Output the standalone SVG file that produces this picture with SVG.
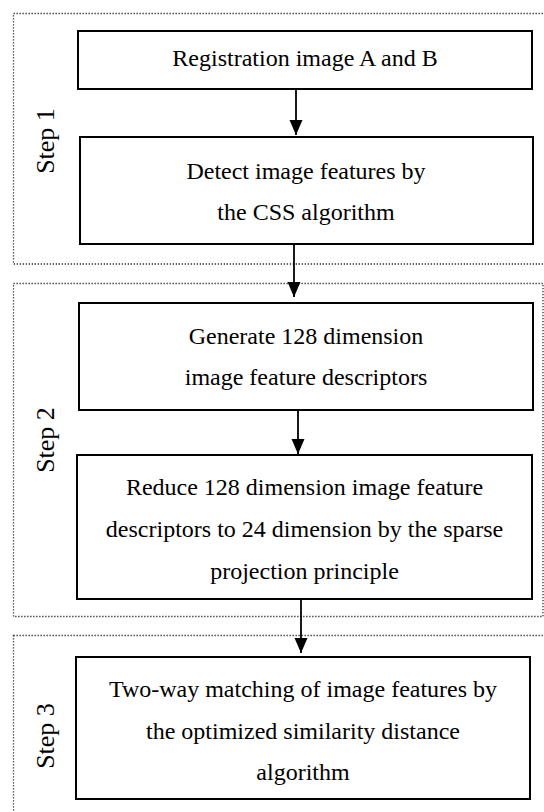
<svg xmlns="http://www.w3.org/2000/svg" width="544" height="812" viewBox="0 0 544 812" font-family="'Liberation Serif', 'DejaVu Serif', 'Times New Roman', Times, serif">
<defs>
<marker id="ah" markerUnits="userSpaceOnUse" markerWidth="16" markerHeight="14" refX="15" refY="7" orient="auto" viewBox="0 0 16 14">
<path d="M0,0.5 L15,7 L0,13.5 Z" fill="#000"/>
</marker>
</defs>
<style>
.grp{fill:none;stroke:#333;stroke-width:1.3;stroke-dasharray:1.3 1.7}
.box{fill:#fff;stroke:#000;stroke-width:2}
.t{font-size:24px;fill:#000;text-anchor:middle}
.s{font-size:26px;fill:#000;text-anchor:middle}
.c{stroke:#000;stroke-width:1.8;fill:none}
</style>
<rect width="544" height="812" fill="#fff"/>
<g id="step1">
<rect class="grp" x="13.5" y="13.5" width="540" height="250.5"/>
<text class="s" font-family="Liberation Serif, serif" transform="translate(54,141) rotate(-90)">Step 1</text>
</g>
<g id="step2">
<rect class="grp" x="13.5" y="283.5" width="529.5" height="333"/>
<text class="s" font-family="Liberation Serif, serif" transform="translate(54,440) rotate(-90)">Step 2</text>
</g>
<g id="step3">
<rect class="grp" x="13.5" y="635.5" width="540" height="200"/>
<text class="s" font-family="Liberation Serif, serif" transform="translate(54,736) rotate(-90)">Step 3</text>
</g>
<g id="connectors">
<line class="c" x1="296" y1="89" x2="296" y2="135" marker-end="url(#ah)"/>
<line class="c" x1="294" y1="244" x2="294" y2="297" marker-end="url(#ah)"/>
<line class="c" x1="298" y1="410" x2="298" y2="454" marker-end="url(#ah)"/>
<line class="c" x1="301" y1="599" x2="301" y2="653" marker-end="url(#ah)"/>
</g>
<g id="n1">
<rect class="box" x="78" y="31" width="454" height="58"/>
<text class="t" font-family="Liberation Serif, serif" x="305" y="66">Registration image A and B</text>
</g>
<g id="n2">
<rect class="box" x="80" y="137" width="453" height="107"/>
<text class="t" font-family="Liberation Serif, serif" x="306" y="179">Detect image features by</text>
<text class="t" font-family="Liberation Serif, serif" x="306" y="220">the CSS algorithm</text>
</g>
<g id="n3">
<rect class="box" x="79" y="303" width="454" height="107"/>
<text class="t" font-family="Liberation Serif, serif" x="306" y="344">Generate 128 dimension</text>
<text class="t" font-family="Liberation Serif, serif" x="306" y="385">image feature descriptors</text>
</g>
<g id="n4">
<rect class="box" x="77" y="455" width="455" height="144"/>
<text class="t" font-family="Liberation Serif, serif" x="304.5" y="495">Reduce 128 dimension image feature</text>
<text class="t" font-family="Liberation Serif, serif" x="304.5" y="537">descriptors to 24 dimension by the sparse</text>
<text class="t" font-family="Liberation Serif, serif" x="304.5" y="579">projection principle</text>
</g>
<g id="n5">
<rect class="box" x="76" y="657" width="454" height="142"/>
<text class="t" font-family="Liberation Serif, serif" x="303" y="697">Two-way matching of image features by</text>
<text class="t" font-family="Liberation Serif, serif" x="303" y="739">the optimized similarity distance</text>
<text class="t" font-family="Liberation Serif, serif" x="303" y="780">algorithm</text>
</g>
</svg>
